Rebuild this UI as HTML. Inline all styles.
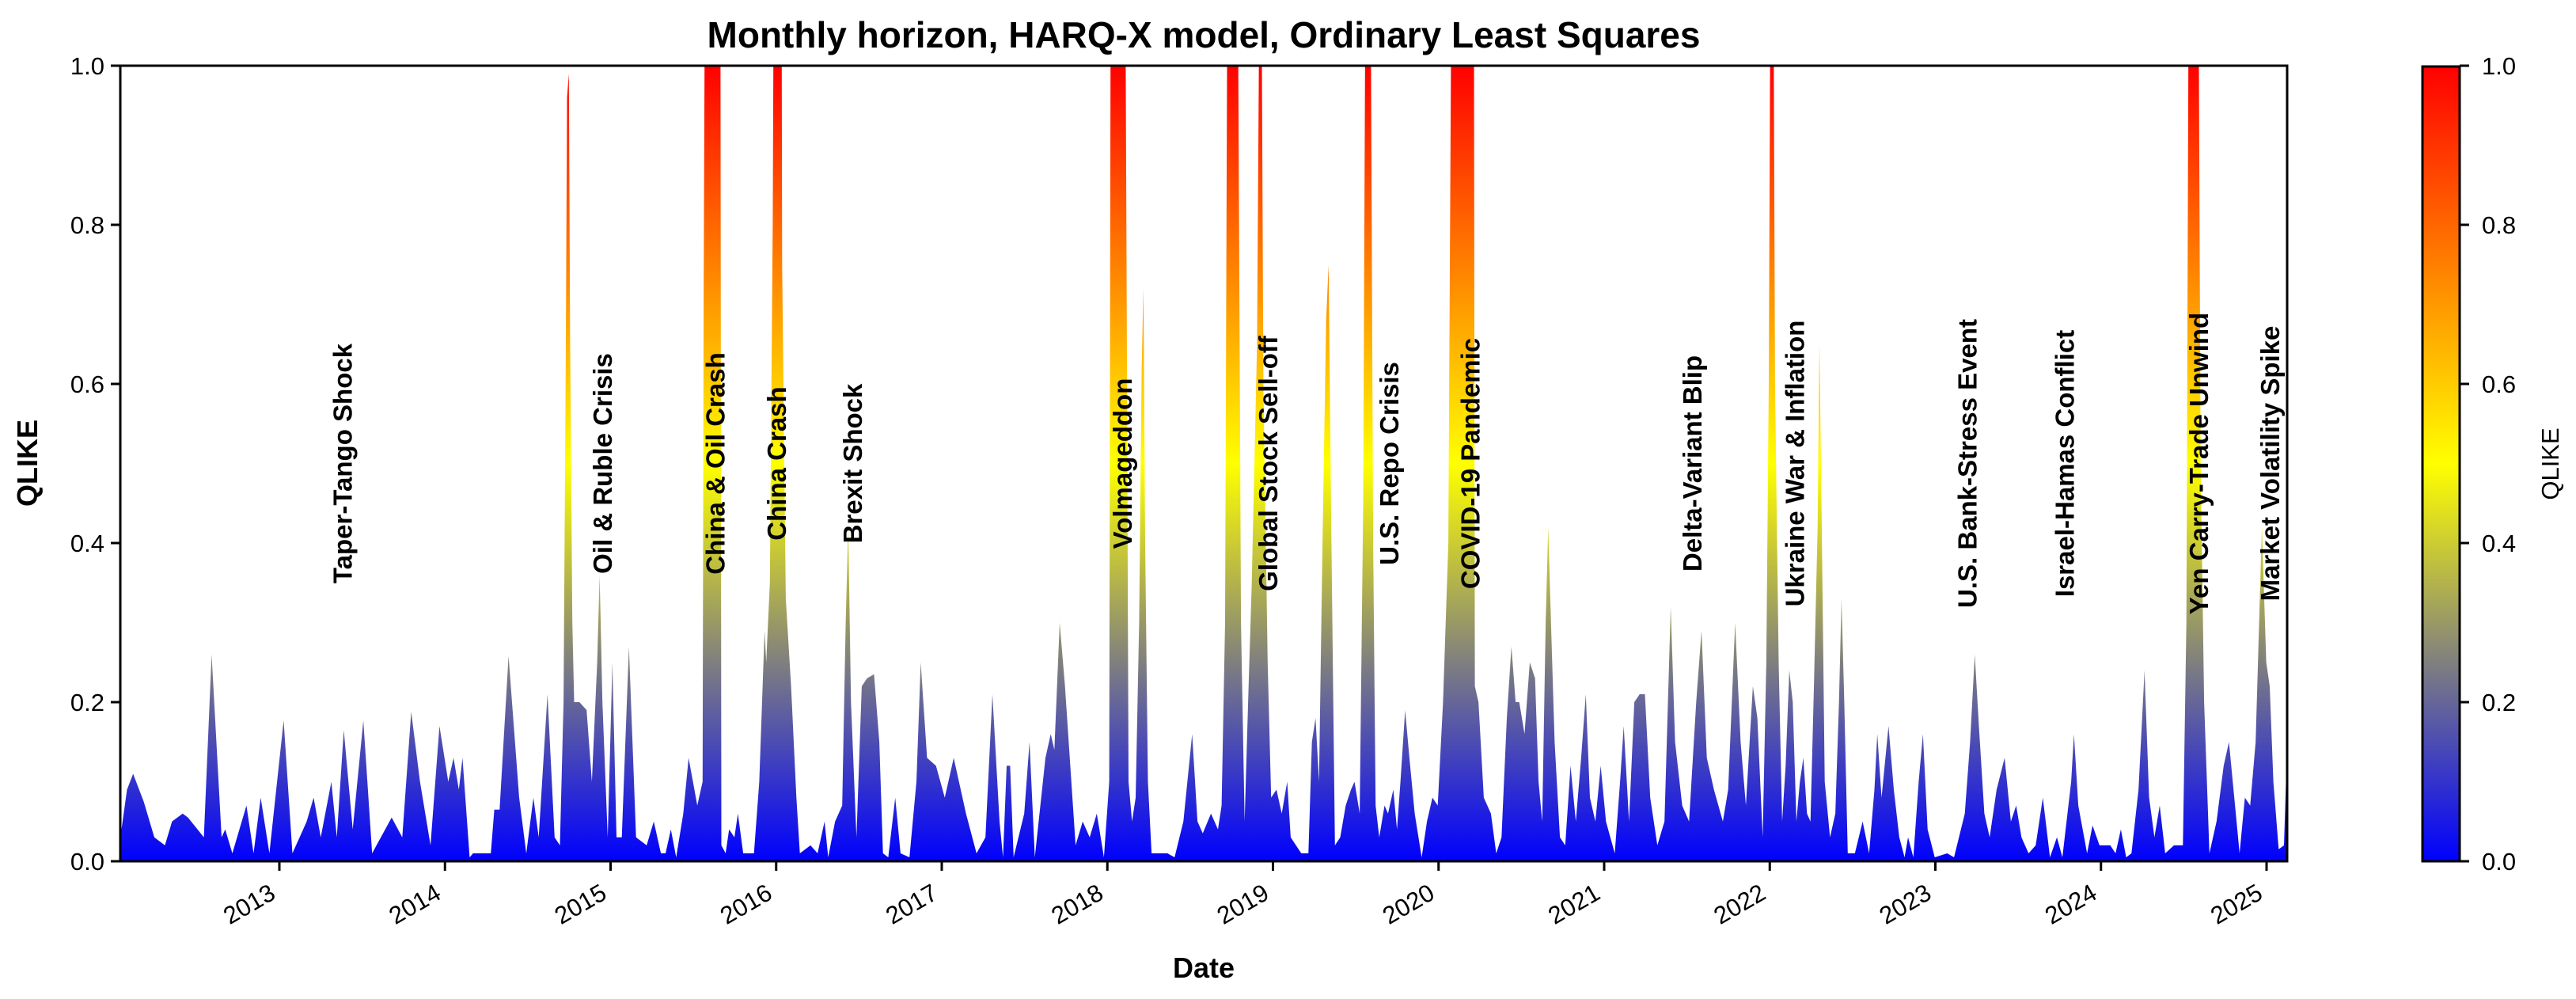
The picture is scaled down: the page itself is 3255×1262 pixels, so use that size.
<!DOCTYPE html>
<html><head><meta charset="utf-8"><style>
html,body{margin:0;padding:0;background:#fff;}
svg{display:block;font-family:"Liberation Sans","DejaVu Sans",sans-serif;}
</style></head><body>
<svg id="chart" width="3255" height="1262" viewBox="0 0 3255 1262" xmlns="http://www.w3.org/2000/svg">
<defs>
<linearGradient id="cmapArea" gradientUnits="userSpaceOnUse" x1="0" y1="1088" x2="0" y2="83">
<stop offset="0" stop-color="#0000ff"/><stop offset="0.5" stop-color="#ffff00"/><stop offset="1" stop-color="#ff0000"/>
</linearGradient>
<linearGradient id="cmapBar" x1="0" y1="1" x2="0" y2="0">
<stop offset="0" stop-color="#0000ff"/><stop offset="0.5" stop-color="#ffff00"/><stop offset="1" stop-color="#ff0000"/>
</linearGradient>
<clipPath id="plotClip"><rect x="152" y="83" width="2738" height="1005"/></clipPath>
</defs>
<text x="1521" y="60" text-anchor="middle" font-size="46" font-weight="bold">Monthly horizon, HARQ-X model, Ordinary Least Squares</text>
<g id="plot"></g>
<text x="1521" y="1235" text-anchor="middle" font-size="36" font-weight="bold">Date</text>
<text transform="translate(47,585) rotate(-90)" text-anchor="middle" font-size="36" font-weight="bold">QLIKE</text>
<rect x="3061" y="84" width="47" height="1004" fill="url(#cmapBar)" stroke="#000" stroke-width="3"/>
<g id="cbticks"></g>
<text transform="translate(3233,586) rotate(-90)" text-anchor="middle" font-size="31">QLIKE</text>
</svg>
<script>
const dates = [2012.04,2012.08,2012.117,2012.181,2012.245,2012.309,2012.352,2012.416,2012.448,2012.544,2012.591,2012.651,2012.673,2012.716,2012.801,2012.844,2012.887,2012.940,2013.026,2013.079,2013.165,2013.207,2013.250,2013.314,2013.347,2013.389,2013.443,2013.507,2013.560,2013.678,2013.742,2013.796,2013.849,2013.913,2013.967,2014.020,2014.052,2014.084,2014.106,2014.149,2014.170,2014.277,2014.298,2014.330,2014.384,2014.448,2014.491,2014.534,2014.566,2014.619,2014.662,2014.694,2014.716,2014.730,2014.737,2014.748,2014.756,2014.769,2014.780,2014.812,2014.855,2014.887,2014.919,2014.934,2014.951,2014.983,2015.011,2015.036,2015.068,2015.111,2015.154,2015.218,2015.261,2015.304,
2015.332,2015.364,2015.396,2015.439,2015.471,2015.524,2015.556,2015.562,2015.571,2015.663,2015.669,2015.695,2015.716,2015.748,2015.769,2015.801,2015.866,2015.898,2015.930,2015.940,2015.962,2015.979,2015.987,2016.032,2016.036,2016.058,2016.090,2016.122,2016.143,2016.207,2016.250,2016.292,2016.314,2016.356,2016.399,2016.420,2016.435,2016.452,2016.485,2016.517,2016.549,2016.591,2016.623,2016.645,2016.677,2016.719,2016.751,2016.805,2016.847,2016.873,2016.911,2016.965,2017.018,2017.072,2017.146,2017.210,2017.264,2017.306,2017.349,2017.370,2017.392,2017.413,2017.434,2017.498,2017.530,2017.562,2017.626,2017.658,2017.680,2017.712,2017.744,2017.808,2017.851,2017.893,2017.936,2017.979,2018.011,2018.021,2018.107,2018.117,2018.128,2018.149,2018.171,2018.192,2018.207,2018.218,2018.228,2018.245,2018.267,2018.363,2018.406,2018.459,2018.512,2018.544,2018.576,
2018.626,2018.668,2018.690,2018.711,2018.726,2018.786,2018.807,2018.829,2018.850,2018.872,2018.904,2018.921,2018.929,2018.942,2018.968,2018.989,2019.021,2019.053,2019.086,2019.107,2019.139,2019.171,2019.214,2019.235,2019.257,2019.278,2019.299,2019.321,2019.336,2019.353,2019.374,2019.406,2019.439,2019.471,2019.492,2019.524,2019.545,2019.560,2019.588,2019.605,2019.620,2019.642,2019.674,2019.695,2019.727,2019.749,2019.770,2019.798,2019.824,2019.856,2019.898,2019.930,2019.963,2019.995,2020.027,2020.059,2020.080,2020.213,2020.219,2020.241,2020.273,2020.316,2020.348,2020.380,2020.412,2020.440,2020.465,2020.487,2020.519,2020.551,2020.583,2020.604,2020.626,2020.647,2020.662,2020.679,2020.701,2020.733,2020.765,2020.797,2020.829,2020.861,2020.889,2020.914,2020.947,2020.979,2021.011,2021.064,2021.096,2021.118,2021.150,2021.182,2021.214,2021.246,2021.278,2021.321,2021.364,2021.402,2021.428,2021.471,2021.513,2021.556,2021.588,2021.620,2021.663,2021.717,2021.749,2021.791,2021.824,2021.856,2021.898,
2021.925,2021.957,2021.979,2021.994,2022.006,2022.021,2022.032,2022.054,2022.075,2022.096,2022.118,2022.139,2022.161,2022.182,2022.203,2022.225,2022.246,2022.268,2022.289,2022.300,2022.315,2022.332,2022.364,2022.396,2022.418,2022.433,2022.450,2022.471,2022.514,2022.561,2022.600,2022.632,2022.649,2022.675,2022.717,2022.749,2022.782,2022.814,2022.835,2022.867,2022.899,2022.925,2022.953,2022.996,2023.071,2023.113,2023.178,2023.210,2023.238,2023.263,2023.296,2023.328,2023.370,2023.418,2023.456,2023.488,2023.520,2023.563,2023.606,2023.649,2023.692,2023.734,2023.767,2023.820,2023.837,2023.863,2023.916,2023.949,2023.991,2024.056,2024.088,2024.120,2024.152,2024.184,2024.227,2024.263,2024.291,2024.323,2024.355,2024.388,2024.441,2024.495,2024.516,2024.531,2024.587,2024.602,2024.623,2024.655,2024.698,2024.741,2024.773,2024.805,2024.837,2024.869,2024.901,2024.934,2024.955,2024.972,2024.998,2025.019,2025.041,2025.073,2025.105,2025.122];
const qlike = [0.03,0.09,0.11,0.075,0.03,0.02,0.05,0.06,0.055,0.03,0.26,0.03,0.04,0.01,0.07,0.01,0.08,0.01,0.177,0.01,0.05,0.08,0.03,0.1,0.03,0.165,0.04,0.177,0.01,0.055,0.03,0.188,0.1,0.02,0.17,0.1,0.13,0.09,0.13,0.005,0.01,0.01,0.065,0.065,0.258,0.08,0.01,0.08,0.03,0.21,0.03,0.02,0.2,0.65,0.96,0.99,0.65,0.3,0.2,0.2,0.19,0.1,0.25,0.36,0.2,0.03,0.25,0.03,0.03,0.27,0.03,0.02,0.05,0.01,
0.01,0.04,0.005,0.06,0.13,0.07,0.1,0.7,1.2,1.2,0.02,0.01,0.04,0.03,0.06,0.01,0.01,0.1,0.29,0.25,0.35,0.8,1.2,1.2,0.75,0.33,0.22,0.08,0.01,0.02,0.01,0.05,0.005,0.05,0.07,0.3,0.42,0.2,0.03,0.22,0.23,0.235,0.15,0.01,0.005,0.08,0.01,0.005,0.1,0.25,0.13,0.12,0.08,0.13,0.06,0.01,0.03,0.21,0.05,0.005,0.12,0.12,0.005,0.06,0.15,0.005,0.13,0.16,0.14,0.3,0.22,0.02,0.05,0.03,0.06,0.005,0.1,1.2,1.2,0.7,0.1,0.05,0.08,0.3,0.62,0.72,0.4,0.1,0.01,0.01,0.005,0.05,0.16,0.05,0.035,
0.06,0.04,0.07,0.3,1.2,1.2,0.3,0.05,0.2,0.35,0.65,1.2,1.2,0.6,0.25,0.08,0.09,0.06,0.1,0.03,0.02,0.01,0.01,0.15,0.18,0.1,0.4,0.68,0.75,0.4,0.02,0.03,0.07,0.09,0.1,0.06,0.45,1.2,1.2,0.4,0.07,0.03,0.07,0.06,0.09,0.04,0.1,0.19,0.13,0.06,0.005,0.05,0.08,0.07,0.2,0.4,1.2,1.2,0.22,0.2,0.08,0.06,0.01,0.03,0.18,0.27,0.2,0.2,0.16,0.25,0.23,0.1,0.05,0.3,0.42,0.3,0.15,0.03,0.02,0.12,0.05,0.13,0.21,0.08,0.05,0.12,0.05,0.01,0.1,0.17,0.05,0.2,0.21,0.21,0.08,0.02,0.05,0.32,0.15,0.07,0.05,0.2,0.29,0.13,0.09,0.05,0.09,0.3,0.15,0.07,0.22,
0.18,0.03,0.25,0.6,1.2,1.2,0.6,0.25,0.05,0.12,0.24,0.2,0.05,0.1,0.13,0.06,0.05,0.23,0.42,0.65,0.4,0.1,0.03,0.06,0.2,0.33,0.2,0.01,0.01,0.05,0.01,0.09,0.16,0.08,0.17,0.09,0.03,0.005,0.03,0.005,0.1,0.16,0.04,0.005,0.01,0.005,0.06,0.15,0.26,0.17,0.06,0.03,0.09,0.13,0.05,0.07,0.03,0.01,0.02,0.08,0.005,0.03,0.005,0.1,0.16,0.07,0.01,0.045,0.02,0.02,0.01,0.04,0.005,0.01,0.09,0.24,0.08,0.03,0.07,0.01,0.02,0.02,0.3,1.2,1.2,0.5,0.2,0.01,0.05,0.12,0.15,0.08,0.01,0.08,0.07,0.15,0.3,0.42,0.25,0.22,0.1,0.015,0.02,0.13];
const yTicks = [0.0,0.2,0.4,0.6,0.8,1.0];
const xTickYears = [2013,2014,2015,2016,2017,2018,2019,2020,2021,2022,2023,2024,2025];
const eventNames = ["Taper-Tango Shock","Oil & Ruble Crisis","China & Oil Crash","China Crash","Brexit Shock","Volmageddon","Global Stock Sell-off","U.S. Repo Crisis","COVID-19 Pandemic","Delta-Variant Blip","Ukraine War & Inflation","U.S. Bank-Stress Event","Israel-Hamas Conflict","Yen Carry-Trade Unwind","Market Volatility Spike"];
const eventDates = [2013.38,2014.95,2015.63,2016.0,2016.46,2018.09,2018.97,2019.70,2020.19,2021.53,2022.15,2023.19,2023.78,2024.59,2025.02];

const NS="http://www.w3.org/2000/svg";
const L=152,R=2890,T=83,B=1088;
function xs(d){return 353+(d-2013)*209.25;}
function ys(v){return B-(v-0)/(1-0)*(B-T);}
function mk(tag,attrs,parent){const e=document.createElementNS(NS,tag);for(const k in attrs)e.setAttribute(k,attrs[k]);parent.appendChild(e);return e;}
const plot=document.getElementById('plot');
let d="M"+xs(dates[0]).toFixed(1)+","+ys(0);
for(let i=0;i<dates.length;i++){d+=" L"+xs(dates[i]).toFixed(1)+","+ys(qlike[i]).toFixed(1);}
d+=" L"+xs(dates[dates.length-1]).toFixed(1)+","+ys(0)+" Z";
const g=mk('g',{'clip-path':'url(#plotClip)'},plot);
const area=mk('path',{d:d,fill:'url(#cmapArea)',stroke:'none'},g);


for(let i=0;i<eventNames.length;i++){
  const t=mk('text',{transform:'translate('+(xs(eventDates[i])+12).toFixed(1)+','+ys(0.5).toFixed(1)+') rotate(-90)','text-anchor':'middle','font-size':'33','font-weight':'bold',fill:'#000'},plot);
  t.textContent=eventNames[i];
  
  
}
const fr=mk('rect',{x:L,y:T,width:R-L,height:B-T,fill:'none',stroke:'#000','stroke-width':3},plot);


for(const v of yTicks){
  const y=ys(v);
  const tk=mk('line',{x1:L-12,x2:L,y1:y,y2:y,stroke:'#000','stroke-width':3},plot);
  
  
  const tl=mk('text',{x:L-20,y:y+11,'text-anchor':'end','font-size':'31'},plot);
  tl.textContent=v.toFixed(1);
  
  
}
for(const yr of xTickYears){
  const x=xs(yr);
  const tk=mk('line',{x1:x,x2:x,y1:B,y2:B+12,stroke:'#000','stroke-width':3},plot);
  
  
  const tl=mk('text',{transform:'translate('+(x-3)+','+(B+46)+') rotate(-30)','text-anchor':'end','font-size':'31'},plot);
  tl.textContent=String(yr);
  
  
}
const cb=document.getElementById('cbticks');
for(const v of yTicks){
  const y=ys(v);
  const tk=mk('line',{x1:3108,x2:3120,y1:y,y2:y,stroke:'#000','stroke-width':3},cb);
  
  
  const tl=mk('text',{x:3136,y:y+11,'font-size':'31'},cb);
  tl.textContent=v.toFixed(1);
  
  
}
</script>
</body></html>
